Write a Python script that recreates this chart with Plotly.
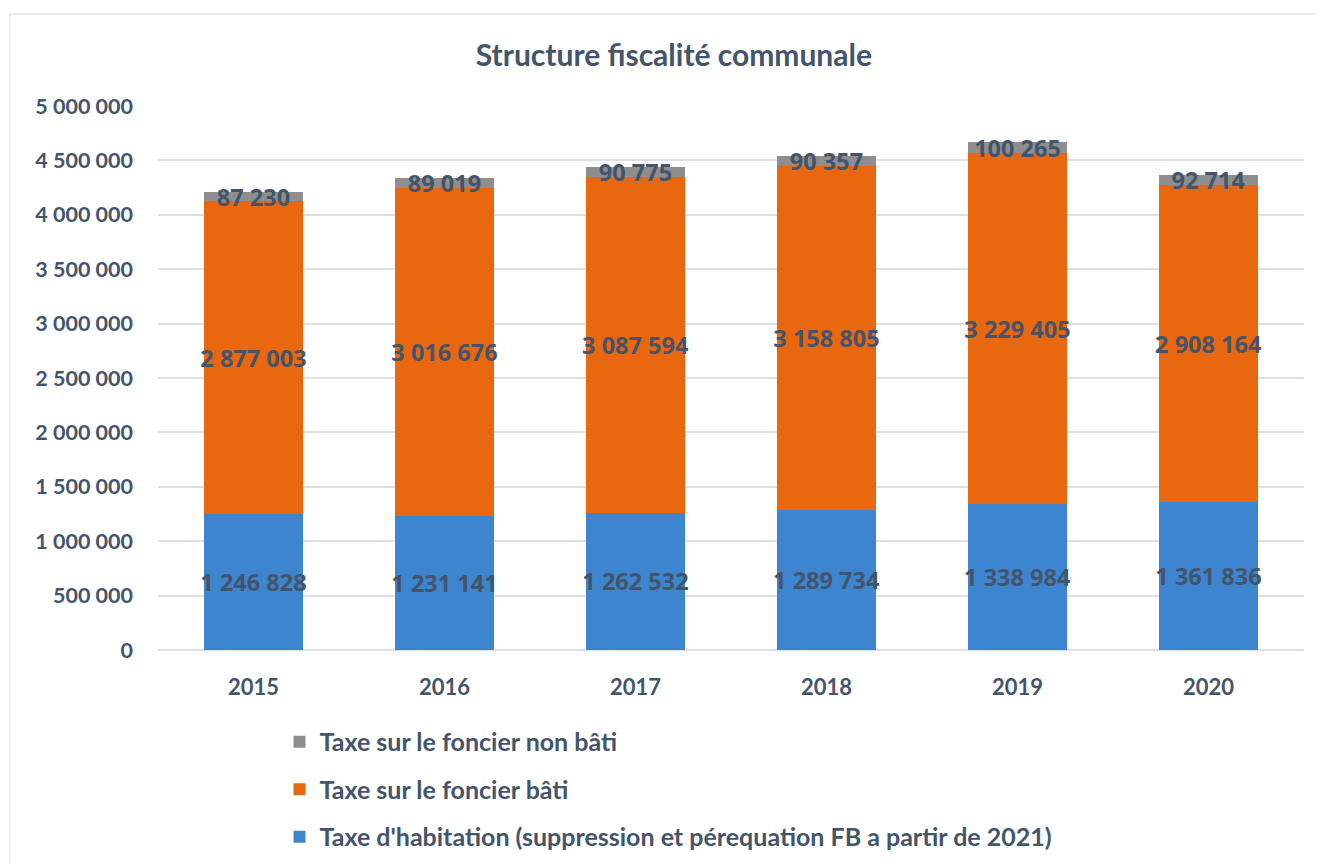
import plotly.graph_objects as go

YEARS = ["2015", "2016", "2017", "2018", "2019", "2020"]
TAXE_HABITATION = [1246828, 1231141, 1262532, 1289734, 1338984, 1361836]
FONCIER_BATI = [2877003, 3016676, 3087594, 3158805, 3229405, 2908164]
FONCIER_NON_BATI = [87230, 89019, 90775, 90357, 100265, 92714]
Y_TICKS = [0, 500000, 1000000, 1500000, 2000000, 2500000, 3000000, 3500000, 4000000, 4500000, 5000000]

# name, values, colour, legend rank (legend lists the top segment first)
SERIES = [
    ("Taxe d'habitation (suppression et pérequation FB a partir de 2021)", TAXE_HABITATION, "#3D86CF", 3),
    ("Taxe sur le foncier bâti", FONCIER_BATI, "#E9670F", 2),
    ("Taxe sur le foncier non bâti", FONCIER_NON_BATI, "#8E8E8E", 1),
]

TEXT_COLOR = "#44546A"


def fmt(value):
    return f"{value:,}".replace(",", " ")


fig = go.Figure()
for i, (name, values, color, rank) in enumerate(SERIES):
    fig.add_trace(
        go.Bar(
            x=YEARS,
            y=values,
            name=name,
            legendgroup=str(i),
            legendrank=rank,
            marker=dict(color=color, line=dict(width=0)),
            text=[fmt(v) for v in values],
            textposition="inside",
            insidetextanchor="middle",
            constraintext="none",
            textangle=0,
            textfont=dict(family="Open Sans", size=23.5, color=TEXT_COLOR, weight="bold"),
            cliponaxis=False,
        )
    )

# r=0 keeps plotly's auto-margin padding at zero so the legend does not squeeze the plot;
# the x domain brings the plot's right edge back in
fig.update_layout(
    barmode="stack",
    bargap=0.48,
    width=1316,
    height=856,
    margin=dict(l=150, r=0, t=98, b=214),
    paper_bgcolor="white",
    plot_bgcolor="white",
    font=dict(family="Lato", color=TEXT_COLOR),
    title=dict(
        text="<b>Structure fiscalité communale</b>",
        x=0.506,
        xanchor="center",
        y=0.945,
        yanchor="middle",
        font=dict(family="Lato", size=30, color=TEXT_COLOR),
    ),
    xaxis=dict(
        domain=[0, 0.98285],
        showgrid=False,
        showline=False,
        ticks="",
        ticklabelstandoff=22,
        tickfont=dict(family="Lato", size=22, color=TEXT_COLOR, weight="bold"),
    ),
    yaxis=dict(
        range=[0, 5000000],
        tickvals=Y_TICKS,
        ticktext=[fmt(v) for v in Y_TICKS],
        showgrid=True,
        gridcolor="#DDE1E6",
        gridwidth=2,
        zeroline=True,
        zerolinecolor="#DDE1E6",
        zerolinewidth=2,
        showline=False,
        ticks="",
        ticklabelstandoff=24,
        tickfont=dict(family="Lato", size=21.5, color=TEXT_COLOR, weight="bold"),
    ),
    legend=dict(
        orientation="v",
        traceorder="grouped",
        tracegroupgap=12,
        x=0.1042,
        xanchor="left",
        y=-0.1268,
        yanchor="top",
        itemwidth=30,
        font=dict(family="Lato", size=25, color=TEXT_COLOR, weight="bold"),
    ),
    shapes=[
        dict(
            type="rect",
            xref="paper",
            yref="paper",
            x0=-0.127,
            x1=1.2,
            y0=-0.6,
            y1=1.169,
            line=dict(color="#D9D9D9", width=1),
            layer="below",
        )
    ],
)

fig.write_html("out.html")
